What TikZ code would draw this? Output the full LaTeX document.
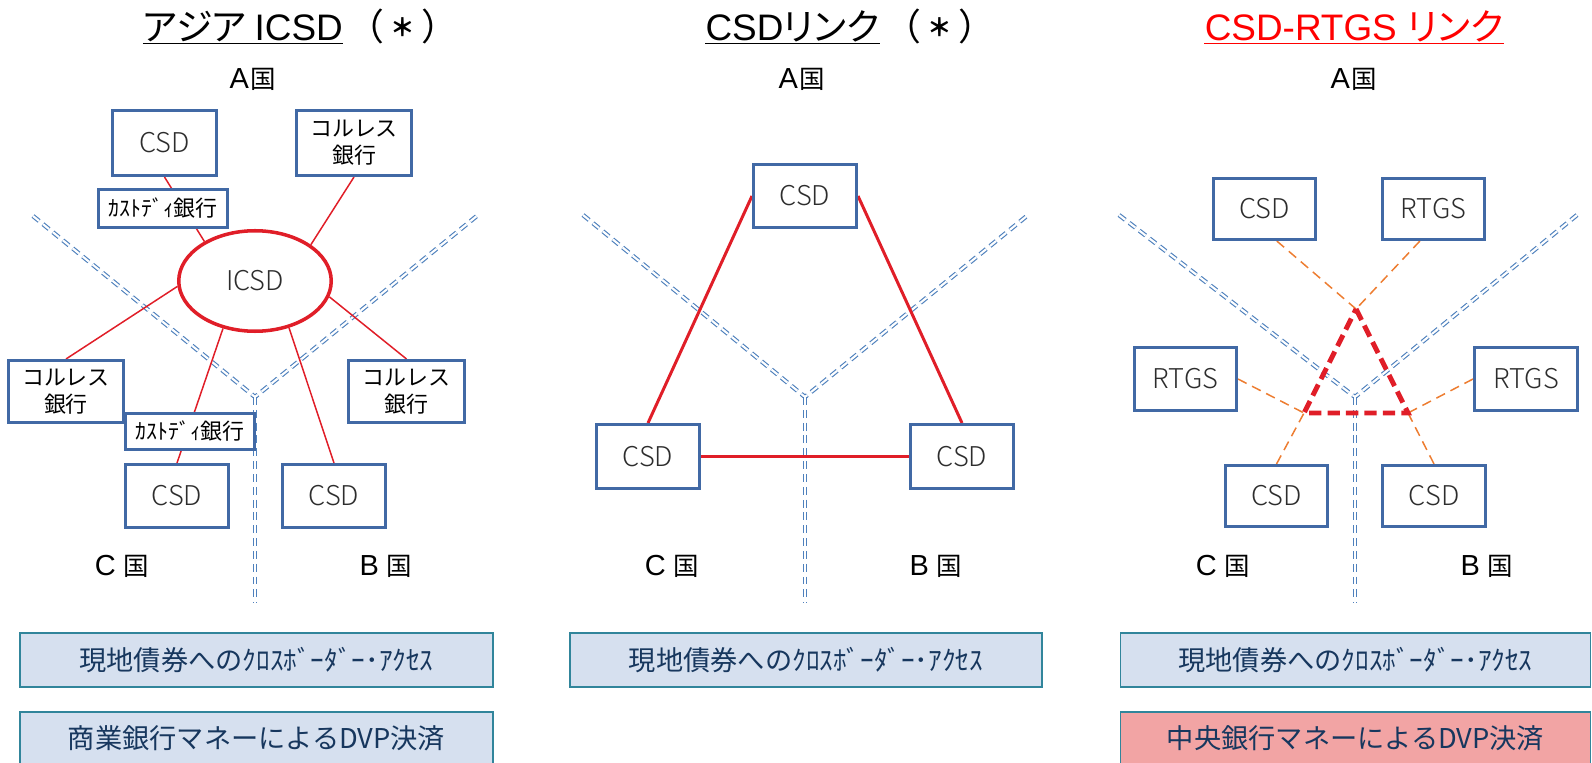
\documentclass[tikz,border=0pt]{standalone}
\usepackage{fontspec}
\setmainfont{Noto Sans CJK JP}
\newfontfamily\jpp[RawFeature=+palt]{Noto Sans CJK JP}
\newfontfamily\lat{Liberation Sans}
\IfFontExistsTF{Noto Sans CJK JP Light}{\newfontfamily\lite{Noto Sans CJK JP Light}}{\newfontfamily\lite{Noto Sans CJK JP}}
\usetikzlibrary{backgrounds,shapes.geometric}
\definecolor{bblue}{RGB}{65,105,165}
\definecolor{lred}{RGB}{224,30,40}
\definecolor{tred}{RGB}{255,0,0}
\definecolor{bordc}{RGB}{79,129,189}
\definecolor{orng}{RGB}{237,125,49}
\definecolor{fillb}{RGB}{214,224,239}
\definecolor{tealc}{RGB}{49,133,155}
\definecolor{pinkc}{RGB}{242,164,164}
\definecolor{navy}{RGB}{23,55,94}
\definecolor{txtgray}{RGB}{45,45,45}
\newcommand{\astx}{（\makebox[21pt]{\raisebox{2.7pt}{\fontsize{14}{16}\selectfont\bfseries ＊}}）}
\begin{document}
\begin{tikzpicture}[x=0.02cm, y=-0.02cm,
  blk/.style n args={2}{draw=bblue, line width=1.6pt, fill=white, inner sep=0pt,
    minimum width={(#1-2.8)*0.02cm}, minimum height={(#2-2.8)*0.02cm}},
  csdt/.style={font=\lite\fontsize{15.5}{18}\selectfont, text=txtgray},
  jpt/.style={font=\fontsize{12.5}{15.5}\selectfont, align=center, text=black},
  info/.style n args={2}{draw=tealc, line width=0.6pt, inner sep=0pt,
    minimum width={#1*0.02cm}, minimum height={#2*0.02cm},
    font=\fontsize{15.5}{18}\selectfont, text=navy},
  bordl/.style={draw=bordc, line width=0.65pt, double=white, double distance=1.2pt,
    dash pattern=on 4.5pt off 2.8pt},
  thinr/.style={draw=lred, line width=0.85pt},
  thickr/.style={draw=lred, line width=1.7pt},
  orl/.style={draw=orng, line width=0.85pt, dash pattern=on 5.5pt off 3.5pt},
  tri/.style={draw=lred, line width=2.8pt, dash pattern=on 7pt off 3.5pt, line join=miter},
  ttl/.style={font=\jpp\fontsize{21}{24}\selectfont, inner sep=0pt, anchor=base},
  ttlp/.style={font=\fontsize{21}{24}\selectfont, inner sep=0pt, anchor=base},
  cty/.style={inner sep=0pt, anchor=base}
]
\useasboundingbox (0,0) rectangle (1592,763);

% ---------- titles ----------
\node[ttl] (t1) at (243,41) {アジア {\lat ICSD}};
\node[ttlp] (p1) at (403,41) {\astx};
\draw[line width=1.1pt] ([yshift=-0.05cm]t1.base west) -- ([yshift=-0.05cm]t1.base east);
\node[ttl] (t2) at (792.5,41) {{\lat CSD}リンク};
\node[ttlp] (p2) at (940,41) {\astx};
\draw[line width=1.1pt] ([yshift=-0.05cm]t2.base west) -- ([yshift=-0.05cm]t2.base east);
\node[ttl, text=tred] (t3) at (1354,41) {{\lat CSD-RTGS }リンク};
\draw[line width=1.1pt, tred] ([yshift=-0.05cm]t3.base west) -- ([yshift=-0.05cm]t3.base east);

% ---------- country labels ----------
\foreach \nm/\xx in {a1/253, a2/802, a3/1354}{
  \node[cty] (\nm) at (\xx,89) {{\lat\fontsize{16.5}{18}\selectfont A}\hspace{1pt}{\fontsize{14.5}{18}\selectfont 国}};
}
\foreach \nm/\xx in {c1/122, c2/672, c3/1223}{
  \node[cty] (\nm) at (\xx,575) {{\lat\fontsize{16.5}{18}\selectfont C }{\fontsize{14.5}{18}\selectfont 国}};
}
\foreach \nm/\xx in {b1/386, b2/936, b3/1487}{
  \node[cty] (\nm) at (\xx,575) {{\lat\fontsize{16.5}{18}\selectfont B }{\fontsize{14.5}{18}\selectfont 国}};
}

% ---------- panel 1 nodes ----------
\node[blk={107}{68}, csdt] (csdA1) at (164.5,143) {CSD};
\node[blk={118}{68}, jpt] (corA1) at (354,143) {コルレス\\銀行};
\node[ellipse, draw=lred, line width=2pt, fill=white, inner sep=0pt,
  minimum width={(156-3.5)*0.02cm}, minimum height={(104-3.5)*0.02cm}, csdt] (icsd) at (255,281) {ICSD};
\node[blk={132}{41}, jpt] (cusA1) at (163,208.5) {ｶｽﾄﾃﾞｨ銀行};
\node[blk={118}{65}, jpt] (corC1) at (66,391.5) {コルレス\\銀行};
\node[blk={119}{65}, jpt] (corB1) at (406.5,391.5) {コルレス\\銀行};
\node[blk={132}{39}, jpt] (cusC1) at (190,431.5) {ｶｽﾄﾃﾞｨ銀行};
\node[blk={106}{66}, csdt] (csdC1) at (177,496) {CSD};
\node[blk={106}{66}, csdt] (csdB1) at (334,496) {CSD};

% ---------- panel 2 nodes ----------
\node[blk={106}{66}, csdt] (csdA2) at (805,196) {CSD};
\node[blk={106}{67}, csdt] (csdC2) at (648,456.5) {CSD};
\node[blk={106}{67}, csdt] (csdB2) at (962,456.5) {CSD};

% ---------- panel 3 nodes ----------
\node[blk={105}{64}, csdt] (csdA3) at (1264.5,209) {CSD};
\node[blk={105}{64}, csdt] (rtgsA3) at (1433.5,209) {RTGS};
\node[blk={105}{66}, csdt] (rtgsC3) at (1185.5,379) {RTGS};
\node[blk={106}{66}, csdt] (rtgsB3) at (1526,379) {RTGS};
\node[blk={105}{64}, csdt] (csdC3) at (1276.5,496) {CSD};
\node[blk={106}{64}, csdt] (csdB3) at (1434,496) {CSD};
\coordinate (T) at (1356,309);
\coordinate (L) at (1304,413);
\coordinate (R) at (1408,413);

% ---------- border coordinates ----------
\coordinate (l1) at (33,216);   \coordinate (v1) at (255,397);  \coordinate (r1) at (478,215);  \coordinate (d1) at (255,603);
\coordinate (l2) at (583,215);  \coordinate (v2) at (805,397);  \coordinate (r2) at (1028,215); \coordinate (d2) at (805,603);
\coordinate (l3) at (1119,215); \coordinate (v3) at (1355,397); \coordinate (r3) at (1577,215); \coordinate (d3) at (1355,603);

\begin{pgfonlayer}{background}
  \foreach \i in {1,2,3}{
    \draw[bordl] (l\i) -- (v\i) -- (r\i);
    \draw[bordl] (v\i) -- (d\i);
  }
  % panel 1 connectors
  \draw[thinr] (csdA1.south) -- (icsd.142);
  \draw[thinr] (corA1.south) -- (icsd.33);
  \draw[thinr] (icsd.184) -- (corC1.north);
  \draw[thinr] (icsd.-12) -- (corB1.north);
  \draw[thinr] (icsd.236.6) -- (csdC1.north);
  \draw[thinr] (icsd.-54.7) -- (csdB1.north);
  % panel 2 connectors
  \draw[thickr] (csdA2.west) -- (csdC2.north);
  \draw[thickr] (csdA2.east) -- (csdB2.north);
  \draw[thickr] (csdC2.east) -- (csdB2.west);
  % panel 3 connectors
  \draw[orl] (csdA3.-69) -- (T);
  \draw[orl] (rtgsA3.247) -- (T);
  \draw[orl] (rtgsC3.east) -- (L);
  \draw[orl] (csdC3.north) -- (L);
  \draw[orl] (rtgsB3.west) -- (R);
  \draw[orl] (csdB3.north) -- (R);
  \draw[tri] (T) -- (R) -- (L) -- cycle;
\end{pgfonlayer}

% ---------- bottom boxes ----------
\node[info={473}{54}, fill=fillb] (acc1) at (256.5,660) {現地債券へのｸﾛｽﾎﾞｰﾀﾞｰ･ｱｸｾｽ};
\node[info={473}{52}, fill=fillb] (dvp1) at (256.5,738) {商業銀行マネーによるDVP決済};
\node[info={472}{54}, fill=fillb] (acc2) at (806,660) {現地債券へのｸﾛｽﾎﾞｰﾀﾞｰ･ｱｸｾｽ};
\node[info={470.5}{54}, fill=fillb] (acc3) at (1355.5,660) {現地債券へのｸﾛｽﾎﾞｰﾀﾞｰ･ｱｸｾｽ};
\node[info={470.5}{52}, fill=pinkc] (dvp3) at (1355.5,738) {中央銀行マネーによるDVP決済};
\end{tikzpicture}
\end{document}
